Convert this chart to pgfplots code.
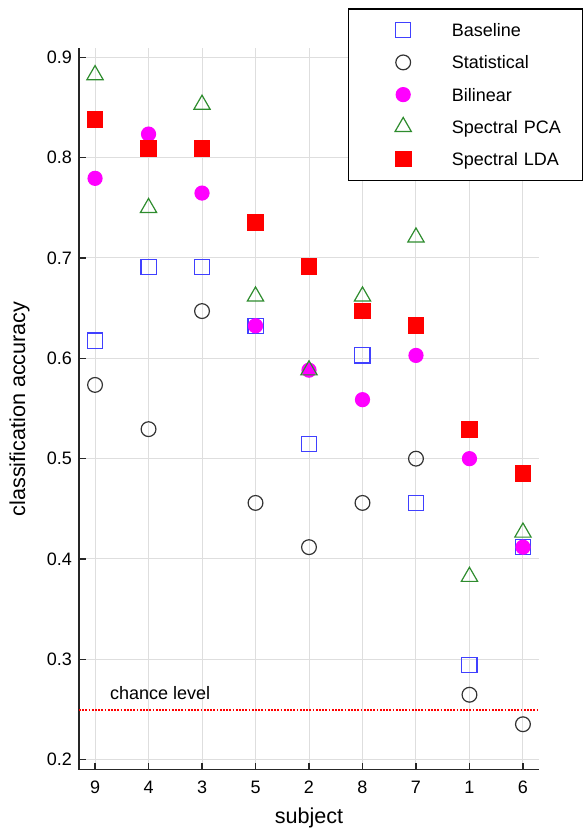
\documentclass[border=0pt]{standalone}
\usepackage{pgfplots}
\usepackage{pgfplotstable}
\pgfplotsset{compat=1.18}
\usepackage{fontspec}
\setmainfont{Liberation Sans}

\definecolor{baseblue}{rgb}{0.25,0.25,1}
\definecolor{statgray}{rgb}{0.2,0.2,0.2}
\definecolor{bilmag}{rgb}{1,0,1}
\definecolor{pcagreen}{rgb}{0.18,0.55,0.18}
\definecolor{ldared}{rgb}{1,0,0}
\definecolor{gridgray}{rgb}{0.87,0.87,0.87}

% marker-only series with a wide legend image, marker placed in its middle
\pgfplotsset{
  legmark/.style={only marks,
    legend image code/.code={%
      \path (-27pt,-7.75pt) (24pt,7.75pt);
      \draw[##1] plot coordinates {(0pt,0pt)};}},
}

% classification accuracy per subject (subjects ordered by position)
\pgfplotstableread{
pos subj base   stat   bil    pca    lda
0   9    0.6176 0.5735 0.7794 0.8824 0.8382
1   4    0.6912 0.5294 0.8235 0.7500 0.8088
2   3    0.6912 0.6471 0.7647 0.8529 0.8088
3   5    0.6324 0.4559 0.6324 0.6618 0.7353
4   2    0.5147 0.4118 0.5882 0.5882 0.6912
5   8    0.6029 0.4559 0.5588 0.6618 0.6471
6   7    0.4559 0.5000 0.6029 0.7206 0.6324
7   1    0.2941 0.2647 0.5000 0.3824 0.5294
8   6    0.4118 0.2353 0.4118 0.4265 0.4853
}\accdata

\begin{document}
\begin{tikzpicture}
\path (-39.5pt,-30.15pt) rectangle (251.5pt,384.85pt);
\begin{axis}[
  at={(0pt,0pt)}, anchor=south west,
  scale only axis, width=230pt, height=360.85pt,
  xmin=-0.3, xmax=8.3, ymin=0.19, ymax=0.9093,
  axis lines*=left,
  axis line style={line width=0.6pt, color=black!85},
  tick align=inside,
  major tick length=3.4pt,
  tick style={line width=0.6pt, color=black!85},
  xtick={0,1,2,3,4,5,6,7,8},
  xticklabels={9,4,3,5,2,8,7,1,6},
  ytick={0.2,0.3,0.4,0.5,0.6,0.7,0.8,0.9},
  grid=major,
  grid style={gridgray, line width=0.5pt},
  /pgf/number format/assume math mode=true,
  ticklabel style={font=\fontsize{9}{10.8}\selectfont},
  xticklabel style={yshift=-2pt},
  yticklabel style={/pgf/number format/.cd, fixed, fixed zerofill, precision=1},
  xlabel={subject},
  ylabel={classification accuracy},
  x label style={at={(axis description cs:0.5,-0.0527)}, anchor=north, inner sep=0pt,
    font=\fontsize{10.8}{12}\selectfont},
  y label style={at={(axis description cs:-0.1065,0.5)}, anchor=south, inner sep=0pt,
    font=\fontsize{10.8}{12}\selectfont},
  legend cell align=left,
  legend style={at={(0.5848,1.055)}, anchor=north west,
    draw=black, line width=0.6pt, fill=white,
    inner xsep=0pt, inner ysep=2.6pt,
    row sep=0pt, column sep=0pt,
    font=\fontsize{9}{10.8}\selectfont,
    nodes={inner sep=0pt, text width=65.5pt, text height=6.44pt, text depth=0pt}},
]
\addplot[legmark, mark=square, mark size=3.8pt, color=baseblue, line width=0.6pt]
  table[x=pos, y=base] {\accdata};
\addlegendentry{Baseline}
\addplot[legmark, mark=o, mark size=3.7pt, color=statgray, line width=0.6pt]
  table[x=pos, y=stat] {\accdata};
\addlegendentry{Statistical}
\addplot[legmark, mark=*, mark size=3.5pt, color=bilmag, line width=0.6pt]
  table[x=pos, y=bil] {\accdata};
\addlegendentry{Bilinear}
\addplot[legmark, mark=triangle, mark size=4.7pt, color=pcagreen, line width=0.6pt]
  table[x=pos, y=pca] {\accdata};
\addlegendentry{Spectral PCA}
\addplot[legmark, mark=square*, mark size=3.9pt, color=ldared, line width=0.6pt]
  table[x=pos, y=lda] {\accdata};
\addlegendentry{Spectral LDA}

% chance level for four classes
\addplot[draw=red, color=red, line width=1pt, dash pattern=on 0.9pt off 0.7pt, forget plot]
  coordinates {(-0.3,0.25) (8.3,0.25)};
\node[anchor=base west, inner sep=0pt, font=\fontsize{9}{10.8}\selectfont]
  at (axis cs:0.275,0.2595) {chance level};
\end{axis}
\end{tikzpicture}
\end{document}
